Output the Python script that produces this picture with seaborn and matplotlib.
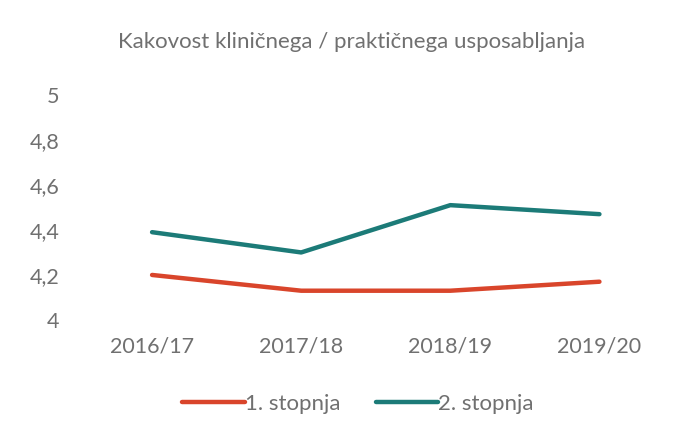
import matplotlib
matplotlib.use("Agg")
from matplotlib import pyplot as plt
import seaborn as sns
import pandas as pd

# podatki
leta = ["2016/17", "2017/18", "2018/19", "2019/20"]
stopnja_1 = [4.20, 4.13, 4.13, 4.17]
stopnja_2 = [4.39, 4.30, 4.51, 4.47]
y_ticks = [4, 4.2, 4.4, 4.6, 4.8, 5]
y_labels = ["4", "4,2", "4,4", "4,6", "4,8", "5"]

df = pd.DataFrame({
    "leto": leta * 2,
    "ocena": stopnja_1 + stopnja_2,
    "serija": ["1. stopnja"] * 4 + ["2. stopnja"] * 4,
})

sns.set_style("white")
plt.rcParams["font.family"] = ["Lato", "DejaVu Sans"]
siva = "#707070"

fig = plt.figure(figsize=(6.74, 4.33), dpi=100)
ax = fig.add_axes([0.115, 0.261, 0.885, 0.52])
sns.lineplot(data=df, x="leto", y="ocena", hue="serija",
             palette=["#d9452b", "#1c7b78"], linewidth=3.2, sort=False, ax=ax)

ax.set_xlim(-0.5, 3.5)
ax.set_ylim(4, 5)
ax.set_yticks(y_ticks)
ax.set_yticklabels(y_labels)
ax.tick_params(axis="both", length=0, labelsize=15.5, labelcolor=siva, pad=12)
ax.tick_params(axis="y", pad=13)
for s in ax.spines.values():
    s.set_visible(False)
ax.set_xlabel("")
ax.set_ylabel("")
ax.set_title("Kakovost kliničnega / praktičnega usposabljanja",
             fontsize=16, color=siva, pad=34, x=0.46)

ax.legend(loc="upper center", bbox_to_anchor=(0.47, -0.24), ncol=2,
          frameon=False, fontsize=16, labelcolor=siva,
          handlelength=2.8, handletextpad=0.0, columnspacing=1.6)

plt.savefig("out.png", dpi=100)
